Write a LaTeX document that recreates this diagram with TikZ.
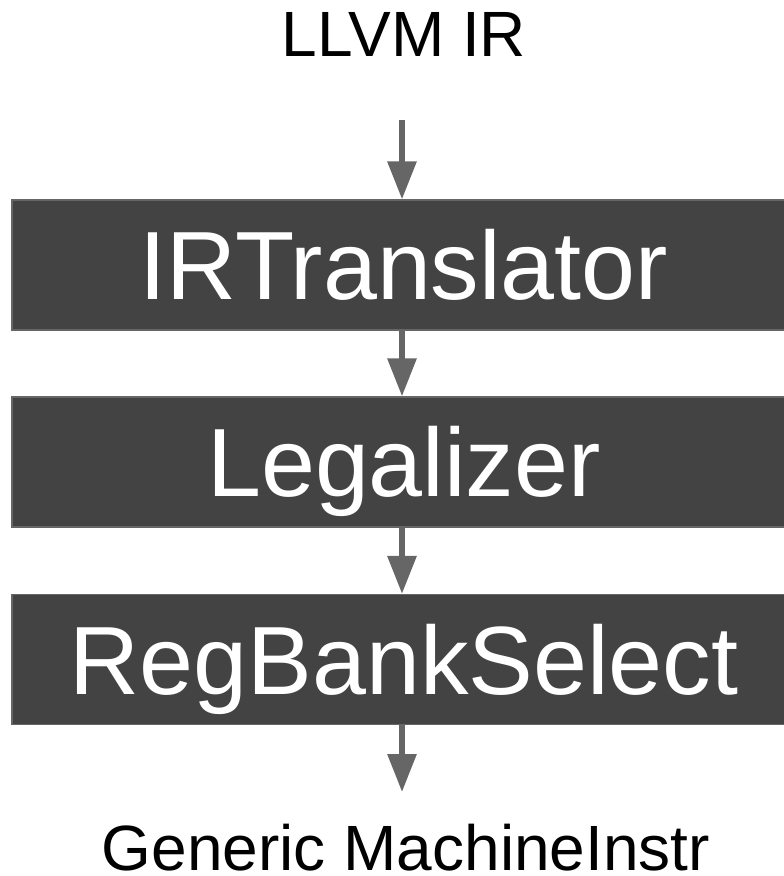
\documentclass[tikz,border=0pt]{standalone}
\usepackage{fontspec}
\setmainfont{Liberation Sans}
\usetikzlibrary{arrows.meta}
\definecolor{passfill}{HTML}{434343}
\definecolor{passedge}{HTML}{666666}
\definecolor{flowgray}{HTML}{666666}
\tikzset{
  x=1pt, y=-1pt,
  passbox/.style={draw=passedge, line width=1.2pt, fill=passfill, text=white,
    minimum width=784pt, minimum height=130pt, inner sep=0pt,
    font=\fontsize{97}{97}\selectfont, text height=69.5pt, text depth=0pt},
  caption/.style={anchor=base, inner sep=0pt, font=\fontsize{64}{64}\selectfont},
  flow/.style={draw=flowgray, line width=6pt,
    -{Triangle[length=38pt,width=28pt]}, shorten >=0pt}
}
\begin{document}
\begin{tikzpicture}
  \useasboundingbox (0,0) rectangle (784,876);
  \clip (0,0) rectangle (784,876);
  % input and output labels
  \node[caption] (llvmir) at (404,56) {LLVM IR};
  \node[caption] (genmi) at (406,870) {Generic MachineInstr};
  % the three passes
  \node[passbox] (irt) at (404,265) {IRTranslator};
  \node[passbox] (leg) at (404,462) {Legalizer};
  \node[passbox] (rbs) at (404,659.5) {RegBankSelect};
  % arrow end points
  \coordinate (intop) at (402,120);
  \coordinate (outbot) at (402,792);
  % flow between passes
  \draw[flow] (intop) -- (intop |- irt.north);
  \draw[flow] ([xshift=-2pt]irt.south) -- ([xshift=-2pt]leg.north);
  \draw[flow] ([xshift=-2pt]leg.south) -- ([xshift=-2pt]rbs.north);
  \draw[flow] ([xshift=-2pt]rbs.south) -- (outbot);
\end{tikzpicture}
\end{document}
